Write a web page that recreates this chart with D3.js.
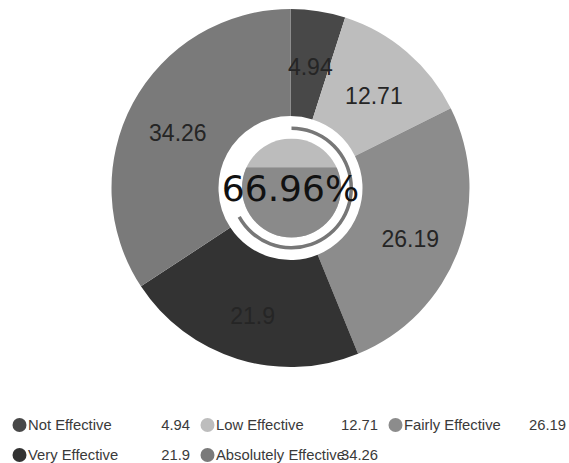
<!DOCTYPE html>
<html>
<head>
<meta charset="utf-8">
<script src="https://cdn.jsdelivr.net/npm/d3@7"></script>
<style>
  html, body { margin: 0; padding: 0; background: #fff; }
  svg { display: block; }
</style>
</head>
<body>
<svg id="chart" width="569" height="463"></svg>
<script>
const categories = ["Not Effective", "Low Effective", "Fairly Effective", "Very Effective", "Absolutely Effective"];
const values = [4.94, 12.71, 26.19, 21.9, 34.26];
const colors = ["#484848", "#bdbdbd", "#8c8c8c", "#333333", "#7a7a7a"];
const gaugeValue = 66.96;

const svg = d3.select("#chart");
const cx = 290.5, cy = 188, outerR = 179, innerR = 72;

const data = categories.map((c, i) => ({ name: c, value: values[i], color: colors[i] }));

const pie = d3.pie().sort(null).value(d => d.value);
const arc = d3.arc().innerRadius(innerR).outerRadius(outerR);
const labelArc = d3.arc().innerRadius(128).outerRadius(128);
const labelShiftY = 5.5;

const g = svg.append("g").attr("transform", `translate(${cx},${cy})`);
const arcs = pie(data);

g.selectAll("path.slice").data(arcs).join("path")
  .attr("class", "slice")
  .attr("d", arc)
  .attr("fill", d => d.data.color);

g.selectAll("text.lbl").data(arcs).join("text")
  .attr("class", "lbl")
  .attr("transform", d => { const c = labelArc.centroid(d); return `translate(${c[0]},${c[1] + labelShiftY})`; })
  .attr("dy", "0.35em")
  .attr("text-anchor", "middle")
  .attr("font-family", "'Liberation Sans', Arial, sans-serif")
  .attr("font-size", 23)
  .attr("fill", "#252525")
  .text(d => d.data.value);

// center gauge
const cg = svg.append("g").attr("transform", `translate(${cx + 1},${cy})`);
const fillR = 49.5;
const waveH = 11;
const defs = svg.append("defs");
defs.append("clipPath").attr("id", "fillClip")
  .append("circle").attr("r", fillR);

const levelScale = d3.scaleLinear().domain([0, 100]).range([fillR + waveH, -fillR - waveH]);

const fg = cg.append("g").attr("clip-path", "url(#fillClip)");
fg.append("rect")
  .attr("x", -fillR).attr("y", -fillR)
  .attr("width", fillR * 2).attr("height", fillR * 2)
  .attr("fill", "#bcbcbc");
fg.append("rect")
  .attr("x", -fillR).attr("y", levelScale(gaugeValue))
  .attr("width", fillR * 2).attr("height", fillR + waveH - levelScale(gaugeValue))
  .attr("fill", "#8a8a8a");

const gaugeAngle = d3.scaleLinear().domain([0, 100]).range([0, 2 * Math.PI]);
cg.append("path")
  .attr("d", d3.arc().innerRadius(58).outerRadius(61.5).startAngle(gaugeAngle(0)).endAngle(gaugeAngle(gaugeValue)))
  .attr("fill", "#777");

cg.append("text")
  .attr("x", -1)
  .attr("text-anchor", "middle")
  .attr("dy", "0.36em")
  .attr("font-family", "'DejaVu Sans', sans-serif")
  .attr("font-size", 36)
  .attr("fill", "#111")
  .text(gaugeValue.toFixed(2) + "%");

// legend
const itemW = 188, legX = 12, legY = 425, rowH = 30, perRow = 3;
const leg = svg.append("g");
data.forEach((d, i) => {
  const col = i % perRow, row = Math.floor(i / perRow);
  const x = legX + col * itemW, y = legY + row * rowH;
  const it = leg.append("g").attr("transform", `translate(${x},${y})`);
  it.append("circle").attr("cx", 7.5).attr("cy", 0).attr("r", 7).attr("fill", d.color);
  it.append("text").attr("x", 16).attr("dy", "0.35em")
    .attr("font-family", "'Liberation Sans', Arial, sans-serif")
    .attr("font-size", 14.8).attr("fill", "#3a3a3a").text(d.name);
  it.append("text").attr("x", 178).attr("dy", "0.35em").attr("text-anchor", "end")
    .attr("font-family", "'Liberation Sans', Arial, sans-serif")
    .attr("font-size", 14.8).attr("fill", "#3a3a3a").text(d.value);
});
</script>
</body>
</html>
